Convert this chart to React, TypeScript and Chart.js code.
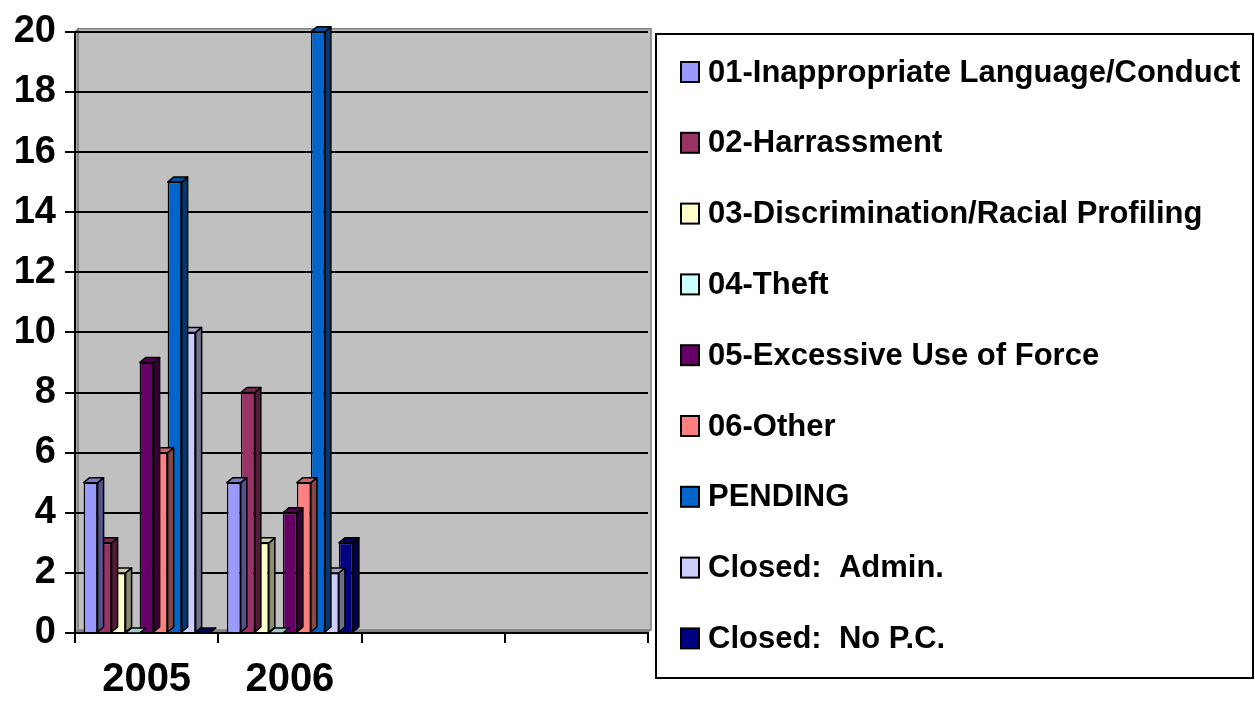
import React, { useEffect, useRef } from 'react';
import { Chart, registerables } from 'chart.js';

Chart.register(...registerables);

const categories = ['2005', '2006', '', ''];
const seriesNames = [
  '01-Inappropriate Language/Conduct',
  '02-Harrassment',
  '03-Discrimination/Racial Profiling',
  '04-Theft',
  '05-Excessive Use of Force',
  '06-Other',
  'PENDING',
  'Closed:  Admin.',
  'Closed:  No P.C.',
];
const seriesColors = ['#9999FF', '#993366', '#FFFFCC', '#CCFFFF', '#660066', '#FF8080', '#0066CC', '#CCCCFF', '#000080'];
const inappropriate = [5, 5];
const harrassment = [3, 8];
const discrimination = [2, 3];
const theft = [0, 0];
const excessiveForce = [9, 4];
const other = [6, 5];
const pending = [15, 20];
const closedAdmin = [10, 2];
const closedNoPC = [0, 3];
const seriesValues = [inappropriate, harrassment, discrimination, theft, excessiveForce, other, pending, closedAdmin, closedNoPC];
const yTicks = [0, 2, 4, 6, 8, 10, 12, 14, 16, 18, 20];

const FONT = '"Liberation Sans", Arial, sans-serif';

function shade(hex: string, f: number) {
  const n = parseInt(hex.slice(1), 16);
  const r = Math.round(((n >> 16) & 255) * f);
  const g = Math.round(((n >> 8) & 255) * f);
  const b = Math.round((n & 255) * f);
  return `rgb(${r},${g},${b})`;
}

const wallPlugin = {
  id: 'wall3d',
  beforeDraw(chart: any) {
    const { ctx, chartArea } = chart;
    const { left, right, top, bottom } = chartArea;
    const d = 3;
    ctx.save();
    ctx.fillStyle = '#C0C0C0';
    ctx.fillRect(left + d, top - d, right - left, bottom - top);
    ctx.strokeStyle = '#808080';
    ctx.lineWidth = 1.5;
    ctx.strokeRect(left + d, top - d, right - left, bottom - top);
    ctx.beginPath();
    ctx.moveTo(left, top);
    ctx.lineTo(left + d, top - d);
    ctx.lineTo(left + d, bottom - d);
    ctx.lineTo(left, bottom);
    ctx.closePath();
    ctx.fillStyle = '#A8A8A8';
    ctx.fill();
    ctx.stroke();
    ctx.beginPath();
    ctx.moveTo(left, bottom);
    ctx.lineTo(left + d, bottom - d);
    ctx.lineTo(right + d, bottom - d);
    ctx.lineTo(right, bottom);
    ctx.closePath();
    ctx.fillStyle = '#808080';
    ctx.fill();
    ctx.restore();
  },
};

const bar3dPlugin = {
  id: 'bar3d',
  afterDatasetDraw(chart: any, args: any) {
    const { ctx } = chart;
    const meta = args.meta;
    const color = seriesColors[args.index];
    const dx = 6;
    const dy = 5;
    ctx.save();
    ctx.lineWidth = 1.5;
    ctx.strokeStyle = '#000';
    ctx.lineJoin = 'round';
    meta.data.forEach((el: any) => {
      const p = el.getProps(['x', 'y', 'base', 'width'], true);
      if (p.y == null || isNaN(p.y)) return;
      const l = p.x - p.width / 2;
      const r = p.x + p.width / 2;
      const t = Math.min(p.y, p.base);
      const b = Math.max(p.y, p.base);
      ctx.beginPath();
      ctx.moveTo(r, t);
      ctx.lineTo(r + dx, t - dy);
      ctx.lineTo(r + dx, b - dy);
      ctx.lineTo(r, b);
      ctx.closePath();
      ctx.fillStyle = shade(color, 0.55);
      ctx.fill();
      ctx.stroke();
      ctx.beginPath();
      ctx.moveTo(l, t);
      ctx.lineTo(l + dx, t - dy);
      ctx.lineTo(r + dx, t - dy);
      ctx.lineTo(r, t);
      ctx.closePath();
      ctx.fillStyle = shade(color, 0.8);
      ctx.fill();
      ctx.stroke();
    });
    ctx.restore();
  },
};

const legendPlugin = {
  id: 'customLegend',
  afterDraw(chart: any) {
    const { ctx } = chart;
    ctx.save();
    ctx.strokeStyle = '#000';
    ctx.lineWidth = 2;
    ctx.strokeRect(656, 34, 597, 644);
    ctx.font = `bold 31px ${FONT}`;
    ctx.textBaseline = 'middle';
    ctx.textAlign = 'left';
    chart.data.datasets.forEach((ds: any, i: number) => {
      const y = 72 + i * 70.8;
      ctx.fillStyle = ds.backgroundColor;
      ctx.fillRect(681, y - 10, 18, 20);
      ctx.lineWidth = 2;
      ctx.strokeRect(681, y - 10, 18, 20);
      ctx.fillStyle = '#000';
      ctx.fillText(ds.label, 708, y + 1);
    });
    ctx.restore();
  },
};

export default function App() {
  const ref = useRef<HTMLCanvasElement>(null);
  useEffect(() => {
    if (!ref.current) return;
    const chart = new Chart(ref.current, {
      type: 'bar',
      data: {
        labels: categories,
        datasets: seriesNames.map((name, i) => ({
          label: name,
          data: seriesValues[i],
          backgroundColor: seriesColors[i],
          borderColor: '#000',
          borderWidth: 1.5,
          categoryPercentage: 0.88,
          barPercentage: 1,
        })),
      },
      options: {
        animation: false,
        responsive: true,
        maintainAspectRatio: false,
        layout: { padding: { top: 28, right: 607, left: 0, bottom: 0 } },
        plugins: { legend: { display: false }, tooltip: { enabled: false } },
        scales: {
          x: {
            afterFit: (s: any) => {
              s.height = 71;
            },
            grid: { drawOnChartArea: false, color: '#000', lineWidth: 2, tickLength: 10, offset: true },
            border: { color: '#000', width: 2 },
            ticks: { color: '#000', font: { family: FONT, size: 40, weight: 'bold' }, padding: 13 },
          },
          y: {
            min: 0,
            max: 20,
            afterFit: (s: any) => {
              s.width = 75;
            },
            afterBuildTicks: (s: any) => {
              s.ticks = yTicks.map((v) => ({ value: v }));
            },
            grid: { color: '#000', lineWidth: 2, tickLength: 10 },
            border: { color: '#000', width: 2 },
            ticks: { color: '#000', font: { family: FONT, size: 38, weight: 'bold' }, padding: 9 },
          },
        },
      },
      plugins: [wallPlugin, bar3dPlugin, legendPlugin],
    });
    return () => chart.destroy();
  }, []);
  return (
    <div style={{ position: 'fixed', left: 0, top: 0, width: 1255, height: 704, background: '#fff' }}>
      <canvas ref={ref} />
    </div>
  );
}
